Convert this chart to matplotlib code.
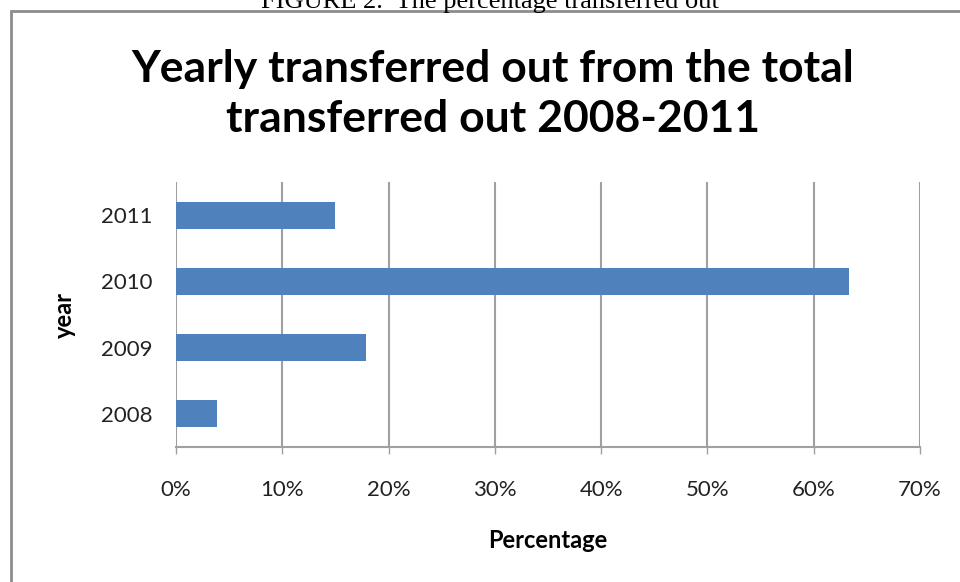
import matplotlib
matplotlib.use('Agg')
import matplotlib.pyplot as plt
from matplotlib.patches import Rectangle
from matplotlib.ticker import PercentFormatter

# share of all transfers out, per year
years = ['2008', '2009', '2010', '2011']
share = [3.9, 17.9, 63.3, 15.0]

bar_color = '#4F81BD'
grid_color = '#A0A0A0'
font = ['Lato', 'DejaVu Sans']

fig = plt.figure(figsize=(9.6, 5.82), dpi=100)
ax = fig.add_axes([176 / 960, 1 - 446.7 / 582, 744 / 960, 264.4 / 582])

ax.barh(range(len(years)), share, height=0.4, color=bar_color, zorder=3)
ax.set_xlim(0, 70)
ax.set_ylim(-0.5, 3.5)
ax.set_xticks(range(0, 71, 10))
ax.xaxis.set_major_formatter(PercentFormatter(decimals=0))
ax.set_yticks(range(len(years)))
ax.set_yticklabels(years)

ax.grid(axis='x', color=grid_color, linewidth=1.5, zorder=0)
for side in ['top', 'right', 'left']:
    ax.spines[side].set_visible(False)
ax.spines['bottom'].set_color(grid_color)
ax.spines['bottom'].set_linewidth(1.5)
ax.tick_params(axis='x', direction='out', length=5, width=1, color=grid_color,
               pad=19, labelsize=16, labelcolor='#222222')
ax.tick_params(axis='y', length=0, pad=17, labelsize=16, labelcolor='#222222')
for lbl in ax.get_xticklabels() + ax.get_yticklabels():
    lbl.set_family(font)

ax.set_xlabel('Percentage', fontsize=17, fontweight='bold', family=font, labelpad=21)
ax.set_ylabel('year', fontsize=17, fontweight='bold', family=font, labelpad=18)

fig.text(493 / 960, 1 - 94 / 582,
         'Yearly transferred out from the total\ntransferred out 2008-2011',
         ha='center', va='center', fontsize=32, fontweight='bold',
         family=font, linespacing=1.32)

# figure caption above the frame, cut off at the top edge
fig.text(490 / 960, 1 - 8 / 582, 'FIGURE 2.  The percentage transferred out',
         ha='center', va='baseline', fontsize=19, family='Liberation Serif')

fig.patches.append(Rectangle((11 / 960, -0.1), 1.0, 1 - 11 / 582 + 0.1,
                             transform=fig.transFigure, fill=False,
                             edgecolor='#8C8C8C', linewidth=2))

fig.savefig('out.png', dpi=100)
